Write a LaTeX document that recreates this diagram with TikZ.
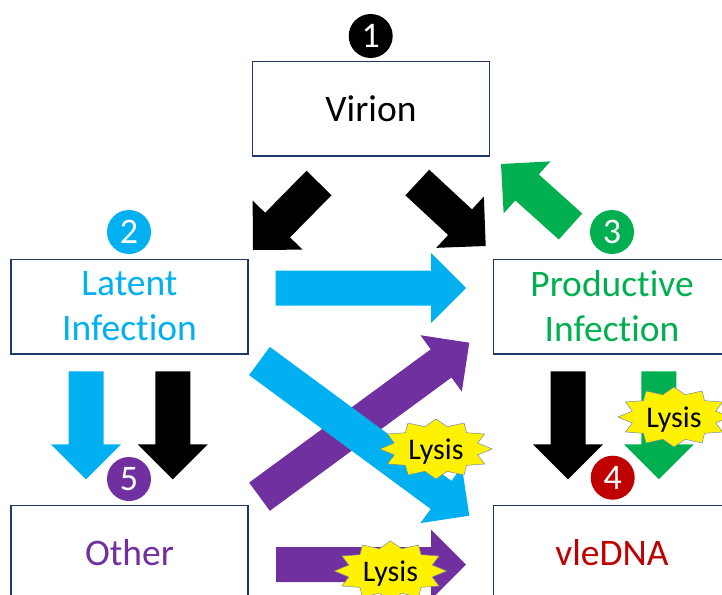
\documentclass[tikz,border=0pt]{standalone}
\usepackage{fontspec}
\setmainfont[Ligatures=NoCommon]{Carlito}
\usetikzlibrary{calc,shapes.geometric}
\definecolor{cblue}{HTML}{00B0F0}
\definecolor{cgreen}{HTML}{00B050}
\definecolor{cpurple}{HTML}{7030A0}
\definecolor{cred}{HTML}{C00000}
\definecolor{cline}{HTML}{1F3864}
\newcommand{\blockarrow}[3]{
    \coordinate (hb) at ($(#3)!35pt!(#2)$);
    \fill[#1] ($(#2)!17.5pt!90:(#3)$) -- ($(hb)!17.5pt!-90:(#2)$) -- ($(hb)!35pt!-90:(#2)$) -- (#3)
        -- ($(hb)!35pt!90:(#2)$) -- ($(hb)!17.5pt!90:(#2)$) -- ($(#2)!17.5pt!-90:(#3)$) -- cycle;
}
\begin{document}
\begin{tikzpicture}[x=1pt,y=-1pt]
    \tikzstyle{box}=[draw=cline,line width=1.5pt,fill=white,minimum width=237,minimum height=94.5,align=center,font=\fontsize{37.5}{45}\selectfont,inner sep=0]
    \tikzstyle{num}=[circle,minimum size=44,inner sep=0,text=white,font=\fontsize{36}{36}\selectfont]
    \tikzstyle{burst}=[star,star points=12,star point ratio=1.3,fill=yellow,draw=cline!60,line width=.5pt,minimum size=60,inner sep=0,xscale=1.87]
    \tikzstyle{lysis}=[inner sep=0,yshift=-2.5pt,font=\fontsize{30}{30}\selectfont]
    \useasboundingbox (0,0) rectangle (722,594);
    \clip (0,0) rectangle (722,594);

    \node[box] (virion) at (371,108.7) {Virion};
    \node[box] (latent) at (129.5,306.5) {\textcolor{cblue}{Latent}\\\textcolor{cblue}{Infection}};
    \node[box] (productive) at (612,306.5) {\textcolor{cgreen}{Productive}\\\textcolor{cgreen}{Infection}};
    \node[box] (other) at (129.5,552.5) {\textcolor{cpurple}{Other}};
    \node[box] (vledna) at (612,552.5) {\textcolor{cred}{vleDNA}};

    \coordinate (a1) at (319,183);   \coordinate (a2) at (253,250);
    \coordinate (b1) at (417.3,182.5); \coordinate (b2) at (485.7,246);
    \coordinate (c1) at (570.5,226.5); \coordinate (c2) at (501,164);
    \coordinate (d1) at (275.5,288); \coordinate (d2) at (466,288);
    \coordinate (e1) at (259.5,496.7); \coordinate (e2) at (469.3,342.7);
    \coordinate (f1) at (259.5,361); \coordinate (f2) at (469.3,515.7);
    \coordinate (g1) at (276,564.5); \coordinate (g2) at (466,564.5);
    \coordinate (h1) at (86,371.3);  \coordinate (h2) at (86,479.3);
    \coordinate (i1) at (172.8,371.3); \coordinate (i2) at (172.8,479.3);
    \coordinate (j1) at (568,371.3); \coordinate (j2) at (568,479.3);
    \coordinate (k1) at (658.8,371.3); \coordinate (k2) at (658.8,479.3);

    \blockarrow{black}{a1}{a2}
    \blockarrow{black}{b1}{b2}
    \blockarrow{cgreen}{c1}{c2}
    \blockarrow{cblue}{d1}{d2}
    \blockarrow{cpurple}{e1}{e2}
    \blockarrow{cblue}{f1}{f2}
    \blockarrow{cpurple}{g1}{g2}
    \blockarrow{cblue}{h1}{h2}
    \blockarrow{black}{i1}{i2}
    \blockarrow{black}{j1}{j2}
    \blockarrow{cgreen}{k1}{k2}

    \node[burst] (burst1) at (436,449) {};
    \node[lysis] (lysis1) at (burst1) {Lysis};
    \node[burst] (burst2) at (390.5,571) {};
    \node[lysis] (lysis2) at (burst2) {Lysis};
    \node[burst] (burst3) at (674,417) {};
    \node[lysis] (lysis3) at (burst3) {Lysis};

    \node[num,fill=black] (n1) at (370.7,36) {1};
    \node[num,fill=cblue] (n2) at (129,232) {2};
    \node[num,fill=cgreen] (n3) at (612,232) {3};
    \node[num,fill=cred] (n4) at (612.7,477.7) {4};
    \node[num,fill=cpurple] (n5) at (129,479) {5};
\end{tikzpicture}
\end{document}
